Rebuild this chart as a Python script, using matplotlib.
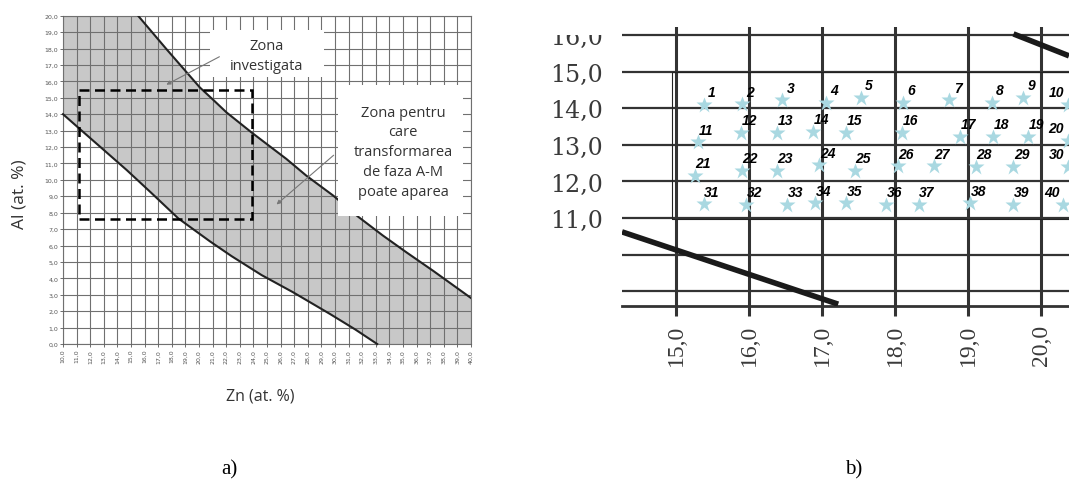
import numpy as np
import matplotlib.pyplot as plt
from matplotlib.patches import Rectangle

# ---- a) domeniul in care poate aparea transformarea A-M (citit din grafic)
upper_zn = [15.52, 17.60, 20.06, 21.05, 22.02, 23.86, 26.43, 27.90, 29.87, 31.71, 33.5, 35.26, 37.23, 40.0]
upper_al = [20.0, 17.97, 15.63, 14.87, 14.11, 12.89, 11.27, 10.25, 9.04, 7.75, 6.62, 5.58, 4.45, 2.80]
lower_zn = [10.0, 11.37, 13.0, 14.68, 16.5, 18.48, 20.81, 22.4, 24.6, 26.92, 29.63, 31.5, 33.1]
lower_al = [14.0, 13.0, 11.82, 10.6, 9.2, 7.65, 6.25, 5.35, 4.2, 3.15, 1.83, 0.88, 0.0]
inv_zn = [11.2, 23.9]   # zona investigata
inv_al = [7.6, 15.5]
zn_ticks = list(range(10, 41))
al_ticks = list(range(0, 21))

# ---- b) cele 40 de aliaje
star_zn = [15.38, 15.90, 16.45, 17.05, 17.53, 18.11, 18.74, 19.32, 19.75, 20.36,
           15.30, 15.89, 16.38, 16.88, 17.33, 18.10, 18.89, 19.34, 19.82, 20.36,
           15.26, 15.90, 16.38, 16.96, 17.45, 18.04, 18.53, 19.10, 19.62, 20.36,
           15.38, 15.96, 16.52, 16.90, 17.33, 17.88, 18.32, 19.03, 19.62, 20.30]
star_al = [14.10, 14.12, 14.23, 14.15, 14.29, 14.15, 14.23, 14.15, 14.29, 14.10,
           13.08, 13.33, 13.33, 13.36, 13.33, 13.33, 13.22, 13.22, 13.22, 13.11,
           12.15, 12.29, 12.29, 12.45, 12.29, 12.42, 12.42, 12.40, 12.40, 12.40,
           11.38, 11.36, 11.36, 11.41, 11.41, 11.36, 11.36, 11.41, 11.36, 11.36]
star_id = list(range(1, 41))
lo_b_zn = [14.26, 17.22]
lo_b_al = [10.62, 8.64]
hi_b_zn = [19.62, 20.38]
hi_b_al = [16.04, 15.44]
box_b_zn = 14.94
box_b_al = [10.97, 15.0]
zn_ticks_b = [15, 16, 17, 18, 19, 20]
al_ticks_b = [9, 10, 11, 12, 13, 14, 15, 16]
al_labels_b = ["", "", "11,0", "12,0", "13,0", "14,0", "15,0", "16,0"]

W, H = 1069, 485
fig = plt.figure(figsize=(W / 100, H / 100), dpi=100)


def px_axes(l, t, r, b):
    return fig.add_axes([l / W, 1 - b / H, (r - l) / W, (b - t) / H])


# ================= a)
ax = px_axes(63, 16.7, 471, 345)
ax.set_xlim(10, 40)
ax.set_ylim(0, 20)
ax.set_xticks(zn_ticks)
ax.set_xticklabels([f"{v},0" for v in zn_ticks], rotation=90)
ax.set_yticks(al_ticks)
ax.set_yticklabels([f"{v},0" for v in al_ticks])
ax.tick_params(labelsize=4.5, colors="#555555", length=2, width=0.6, pad=1.5)
ax.grid(True, color="#707070", lw=0.8)
ax.set_axisbelow(False)
for s in ax.spines.values():
    s.set_color("#707070")
    s.set_linewidth(0.8)

poly_x = lower_zn + [40] + upper_zn[::-1] + [10]
poly_y = lower_al + [0] + upper_al[::-1] + [20]
ax.fill(poly_x, poly_y, color="#c8c8c8", lw=0, zorder=1)
ax.plot(upper_zn, upper_al, color="#222222", lw=1.5, zorder=3)
ax.plot(lower_zn, lower_al, color="#222222", lw=1.5, zorder=3, clip_on=False)

ax.add_patch(Rectangle((20.8, 16.25), 8.4, 2.85, fc="white", ec="none", zorder=4))
ax.add_patch(Rectangle((30.2, 7.8), 9.2, 8.0, fc="white", ec="none", zorder=4))
ax.add_patch(Rectangle((inv_zn[0], inv_al[0]), inv_zn[1] - inv_zn[0], inv_al[1] - inv_al[0],
                       fill=False, ec="black", lw=1.8, ls=(0, (4, 2.2)), zorder=5))

txt = dict(family="Open Sans", fontsize=10.5, color="#333333", ha="center", va="center",
           zorder=7, linespacing=1.45)
ax.text(25.0, 17.6, "Zona\ninvestigata", **txt)
ax.text(35.0, 11.7, "Zona pentru\ncare\ntransformarea\nde faza A-M\npoate aparea", **txt)
arrow = dict(arrowstyle="-|>", color="#777777", lw=0.8, mutation_scale=6, shrinkA=0, shrinkB=0)
ax.annotate("", xy=(17.6, 15.8), xytext=(21.5, 17.5), arrowprops=arrow, zorder=6)
ax.annotate("", xy=(25.7, 8.5), xytext=(29.9, 11.5), arrowprops=arrow, zorder=6)

ax.set_xlabel("Zn (at. %)", family="Open Sans", fontsize=11.5, color="#333333")
ax.set_ylabel("Al (at. %)", family="Open Sans", fontsize=12.5, color="#333333")
ax.xaxis.set_label_coords(0.483, -0.131)
ax.yaxis.set_label_coords(-0.086, 0.46)

# ================= b)
bx = px_axes(622, 28, 1069, 307)
bx.set_xlim(14.26, 20.38)
bx.set_ylim(8.59, 16.23)
bx.set_xticks(zn_ticks_b)
bx.set_xticklabels([f"{v},0" for v in zn_ticks_b], rotation=90,
                   family="Liberation Serif", fontsize=17, color="#3a3a3a")
bx.set_yticks(al_ticks_b)
bx.set_yticklabels(al_labels_b, family="DejaVu Serif", fontsize=17, color="#3a3a3a")
bx.tick_params(axis="x", length=7, width=2.2, color="#333333", pad=6)
bx.tick_params(axis="y", length=0, pad=14)
bx.grid(axis="x", color="#333333", lw=2.2)
bx.grid(axis="y", color="#333333", lw=1.6)
for name, s in bx.spines.items():
    s.set_visible(name == "bottom")
bx.spines["bottom"].set_color("#333333")
bx.spines["bottom"].set_linewidth(2)

bx.plot(lo_b_zn, lo_b_al, color="#1a1a1a", lw=4, solid_capstyle="butt", zorder=3)
bx.plot(hi_b_zn, hi_b_al, color="#1a1a1a", lw=4, solid_capstyle="butt", zorder=3)
bx.add_patch(Rectangle((box_b_zn, box_b_al[0]), 10, box_b_al[1] - box_b_al[0],
                       fill=False, ec="#222222", lw=0.8, zorder=3))
bx.plot(star_zn, star_al, ls="none", marker="*", ms=12, mfc="#a9d8e1", mec="none", zorder=4)
for zn, al, n in zip(star_zn, star_al, star_id):
    # the last column sits on the cut edge, its numbers are put on the left
    off = (-8, 9) if zn > 20.2 else (6, 9)
    bx.annotate(str(n), (zn, al), xytext=off, textcoords="offset points",
                ha="center", va="center", fontsize=10, fontweight="bold", fontstyle="italic",
                family="Liberation Sans", color="black", zorder=5, annotation_clip=False)

# top of the "16,0" label is cut off in the original scan
fig.add_artist(Rectangle((500 / W, 1 - 36 / H), 120 / W, 36 / H, transform=fig.transFigure,
                         fc="white", ec="none", zorder=10))

fig.text(229 / W, 1 - 470 / H, "a)", family="Liberation Serif", fontsize=15, ha="center", va="center")
fig.text(854 / W, 1 - 470 / H, "b)", family="Liberation Serif", fontsize=15, ha="center", va="center")

fig.savefig("out.png", dpi=100)
